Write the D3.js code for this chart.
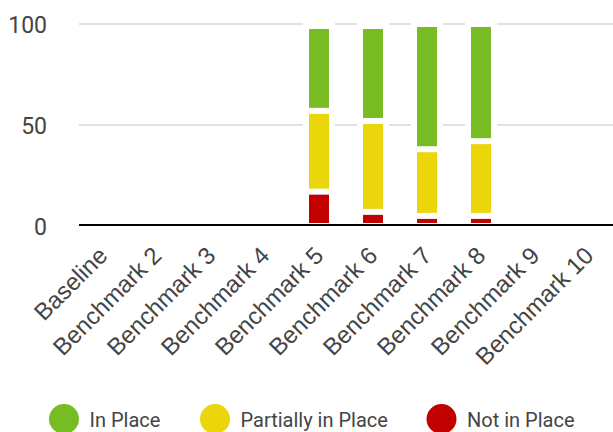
<!DOCTYPE html>
<html>
<head>
<meta charset="utf-8">
<script src="https://cdn.jsdelivr.net/npm/d3@7"></script>
<style>
  html, body { margin: 0; padding: 0; background: #fff; }
  svg { display: block; font-family: Roboto, "Noto Sans", sans-serif; }
</style>
</head>
<body>
<svg id="chart" width="613" height="432"></svg>
<script>
// Assessment stages along the x axis
const categories = ["Baseline", "Benchmark 2", "Benchmark 3", "Benchmark 4", "Benchmark 5",
                    "Benchmark 6", "Benchmark 7", "Benchmark 8", "Benchmark 9", "Benchmark 10"];

// Stacked shares per stage (bottom to top)
const notInPlace       = [0, 0, 0, 0, 17, 7, 5, 5, 0, 0];
const partiallyInPlace = [0, 0, 0, 0, 40, 45, 33, 37, 0, 0];
const inPlace          = [0, 0, 0, 0, 42, 47, 62, 58, 0, 0];

const seriesNames  = ["Not in Place", "Partially in Place", "In Place"];
const seriesColors = ["#c10000", "#ebd50b", "#77bc22"];
const yTicks = [0, 50, 100];
const legendOrder = ["In Place", "Partially in Place", "Not in Place"];

const svg = d3.select("#chart");
const textColor = "#444";

const x = d3.scaleBand()
  .domain(categories)
  .range([76, 616])
  .paddingInner(0.63)
  .paddingOuter(0.315);

const y = d3.scaleLinear().domain([0, 100]).range([226, 24]);

const rows = categories.map((c, i) => ({
  category: c,
  "Not in Place": notInPlace[i],
  "Partially in Place": partiallyInPlace[i],
  "In Place": inPlace[i]
}));
const stacked = d3.stack().keys(seriesNames)(rows);
const total = r => seriesNames.reduce((s, k) => s + r[k], 0);

// Horizontal gridlines
svg.append("g")
  .selectAll("line")
  .data(yTicks.filter(t => t > 0))
  .join("line")
  .attr("x1", 79).attr("x2", 613)
  .attr("y1", d => y(d)).attr("y2", d => y(d))
  .attr("stroke", "#e2e2e2")
  .attr("stroke-width", 2);

// Y axis tick labels
svg.append("g")
  .selectAll("text")
  .data(yTicks)
  .join("text")
  .attr("x", 47)
  .attr("y", d => y(d) + 1)
  .attr("dy", "0.35em")
  .attr("text-anchor", "end")
  .attr("font-size", 23)
  .attr("fill", textColor)
  .text(d => d);

// White halo behind each non-empty column
const gap = 3;
svg.append("g")
  .selectAll("rect")
  .data(rows.filter(r => total(r) > 0))
  .join("rect")
  .attr("x", d => x(d.category) - 6)
  .attr("width", x.bandwidth() + 12)
  .attr("y", d => y(total(d)) + gap - 6)
  .attr("height", d => y(0) - y(total(d)) - gap + 6)
  .attr("fill", "#fff");

// Stacked segments, separated by thin white gaps
svg.append("g")
  .selectAll("g")
  .data(stacked)
  .join("g")
  .attr("fill", (d, i) => seriesColors[i])
  .selectAll("rect")
  .data(d => d.map((v, i) => ({ v, cat: categories[i] })).filter(o => o.v[1] - o.v[0] > 0))
  .join("rect")
  .attr("x", d => x(d.cat))
  .attr("width", x.bandwidth())
  .attr("y", d => y(d.v[1]) + gap)
  .attr("height", d => Math.max(0, y(d.v[0]) - y(d.v[1]) - 2 * gap));

// Baseline
svg.append("line")
  .attr("x1", 79).attr("x2", 613)
  .attr("y1", 225).attr("y2", 225)
  .attr("stroke", "#000")
  .attr("stroke-width", 2);

// Rotated category labels
svg.append("g")
  .selectAll("text")
  .data(categories)
  .join("text")
  .attr("transform", d => `translate(${x(d) + x.bandwidth() / 2 + 6},${257}) rotate(-45)`)
  .attr("text-anchor", "end")
  .attr("font-family", "'Liberation Sans', Arial, sans-serif")
  .attr("font-size", 24)
  .attr("fill", textColor)
  .text(d => d);

// Legend
const legendX = { "In Place": 64, "Partially in Place": 215, "Not in Place": 441.5 };
const legend = svg.append("g")
  .selectAll("g")
  .data(legendOrder)
  .join("g")
  .attr("transform", d => `translate(${legendX[d]},419)`);
legend.append("circle")
  .attr("r", 15)
  .attr("fill", d => seriesColors[seriesNames.indexOf(d)]);
legend.append("text")
  .attr("x", 25.5)
  .attr("y", 7.7)
  .attr("font-size", 20)
  .attr("fill", textColor)
  .text(d => d);
</script>
</body>
</html>
